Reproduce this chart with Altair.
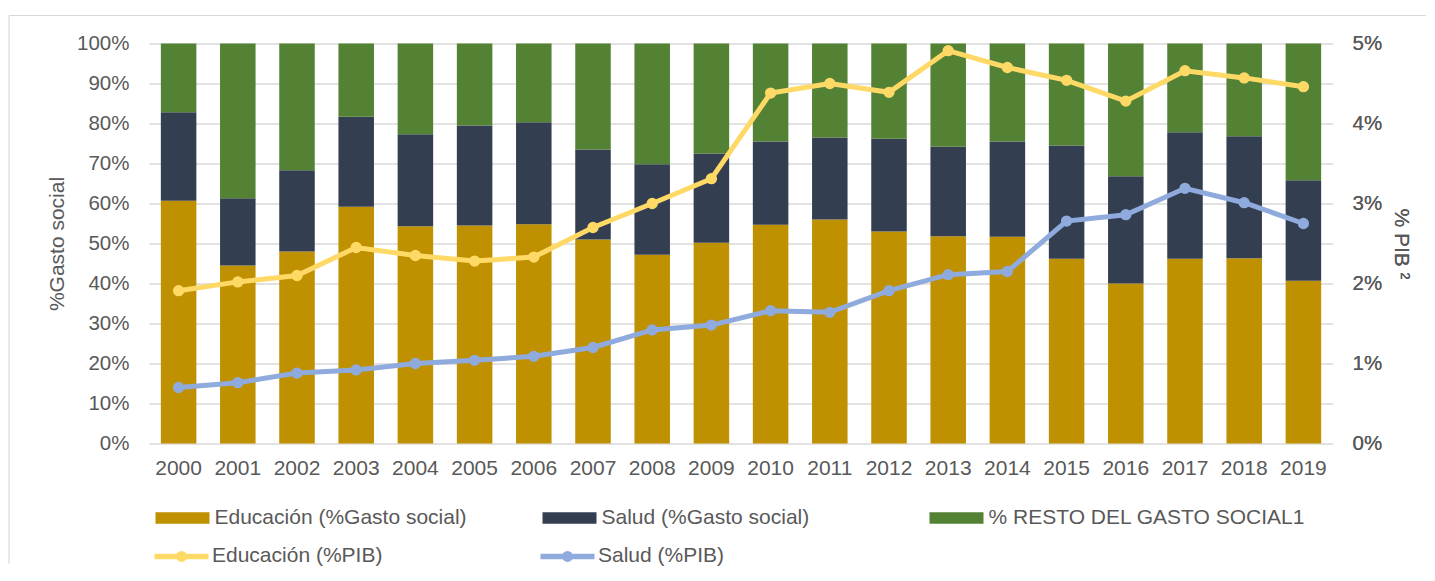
import altair as alt
import pandas as pd

years = ["2000", "2001", "2002", "2003", "2004", "2005", "2006", "2007", "2008", "2009",
         "2010", "2011", "2012", "2013", "2014", "2015", "2016", "2017", "2018", "2019"]

# % of social spending (stacked bars, left axis)
edu_gs = [60.7, 44.5, 48.0, 59.2, 54.3, 54.5, 54.8, 51.0, 47.2, 50.2,
          54.7, 56.0, 53.0, 51.8, 51.7, 46.2, 40.0, 46.2, 46.3, 40.7]
salud_gs = [22.1, 16.8, 20.3, 22.5, 23.0, 25.0, 25.5, 22.5, 22.6, 22.3,
            20.8, 20.5, 23.2, 22.4, 23.8, 28.3, 26.8, 31.6, 30.5, 25.1]
resto_gs = [17.2, 38.7, 31.7, 18.3, 22.7, 20.5, 19.7, 26.5, 30.2, 27.5,
            24.5, 23.5, 23.8, 25.8, 24.5, 25.5, 33.2, 22.2, 23.2, 34.2]

# % of GDP (lines, right axis)
edu_pib = [1.91, 2.02, 2.10, 2.45, 2.35, 2.28, 2.33, 2.70, 3.00, 3.31,
           4.38, 4.50, 4.39, 4.91, 4.70, 4.54, 4.28, 4.66, 4.57, 4.46]
salud_pib = [0.70, 0.76, 0.88, 0.92, 1.00, 1.04, 1.09, 1.20, 1.42, 1.48,
             1.66, 1.64, 1.91, 2.11, 2.15, 2.78, 2.86, 3.19, 3.01, 2.75]

bar_series = ["Educación (%Gasto social)", "Salud (%Gasto social)", "% RESTO DEL GASTO SOCIAL1"]
bar_colors = ["#BF9000", "#333F50", "#548235"]
line_series = ["Educación (%PIB)", "Salud (%PIB)"]
line_colors = ["#FFD966", "#8FAADC"]

bar_rows = []
line_rows = []
for i, y in enumerate(years):
    bar_rows.append({"anio": y, "serie": bar_series[0], "valor": edu_gs[i], "orden": 0})
    bar_rows.append({"anio": y, "serie": bar_series[1], "valor": salud_gs[i], "orden": 1})
    bar_rows.append({"anio": y, "serie": bar_series[2], "valor": resto_gs[i], "orden": 2})
    line_rows.append({"anio": y, "serie": line_series[0], "valor": edu_pib[i]})
    line_rows.append({"anio": y, "serie": line_series[1], "valor": salud_pib[i]})
df_bar = pd.DataFrame(bar_rows)
df_line = pd.DataFrame(line_rows)

FONT = "Liberation Sans"
GREY = "#595959"
FRAME = "#D9D9D9"

rect_path = "M-1,-0.217H1V0.217H-1Z"
line_path = "M-2.16,0H2.16M-0.22,0A0.22,0.22 0 1,1 0.22,0A0.22,0.22 0 1,1 -0.22,0"

x = alt.X(
    "anio:O",
    sort=years,
    scale=alt.Scale(paddingInner=0.4, paddingOuter=0.2),
    axis=alt.Axis(title=None, labelAngle=0, labelFontSize=21, labelColor=GREY,
                  labelFont=FONT, ticks=False, domain=False, labelPadding=14),
)

bars = alt.Chart(df_bar).mark_bar().encode(
    x=x,
    y=alt.Y(
        "valor:Q",
        stack="zero",
        scale=alt.Scale(domain=[0, 100], nice=False),
        axis=alt.Axis(
            title="%Gasto social",
            values=[0, 10, 20, 30, 40, 50, 60, 70, 80, 90, 100],
            labelExpr="datum.value + '%'",
            labelFontSize=20.5,
            labelColor=GREY,
            labelFont=FONT,
            titleFontSize=21,
            titleFontWeight="normal",
            titleColor=GREY,
            titleFont=FONT,
            titlePadding=9,
            labelPadding=20,
            ticks=False,
            domain=False,
            grid=True,
            gridColor=FRAME,
            gridWidth=1.6,
        ),
    ),
    fill=alt.Fill(
        "serie:N",
        scale=alt.Scale(domain=bar_series, range=bar_colors),
        sort=bar_series,
        legend=alt.Legend(
            title=None,
            orient="none",
            legendX=6.5,
            legendY=447.5,
            columns=3,
            gridAlign="all",
            columnPadding=11,
            labelFontSize=21,
            labelColor=GREY,
            labelFont=FONT,
            labelOffset=5,
            labelLimit=400,
            symbolType=rect_path,
            symbolSize=2916,
            symbolStrokeWidth=0,
            symbolOpacity=1,
        ),
    ),
    order=alt.Order("orden:Q", sort="ascending"),
)

y_line = alt.Y(
    "valor:Q",
    scale=alt.Scale(domain=[0, 5], nice=False),
    axis=alt.Axis(
        orient="right",
        title="% PIB ²",
        values=[0, 1, 2, 3, 4, 5],
        labelExpr="datum.value + '%'",
        labelFontSize=20.5,
        labelColor=GREY,
        labelFont=FONT,
        titleFontSize=21,
        titleFontWeight="normal",
        titleColor=GREY,
        titleFont=FONT,
        titlePadding=9,
        labelPadding=19,
        ticks=False,
        domain=False,
        grid=False,
    ),
)

stroke = alt.Stroke(
    "serie:N",
    scale=alt.Scale(domain=line_series, range=line_colors),
    sort=line_series,
    legend=alt.Legend(
        title=None,
        orient="none",
        legendX=17,
        legendY=497,
        columns=3,
        gridAlign="all",
        columnPadding=146,
        labelFontSize=21,
        labelColor=GREY,
        labelFont=FONT,
        labelOffset=15,
        labelLimit=400,
        symbolType=line_path,
        symbolSize=625,
        symbolStrokeWidth=5.5,
        symbolFillColor="transparent",
        symbolOpacity=1,
    ),
)

lines = alt.Chart(df_line).mark_line(strokeWidth=5).encode(
    x=x, y=y_line, stroke=stroke
)
points = alt.Chart(df_line).mark_point(shape="circle", size=34, strokeWidth=5.5, filled=False, opacity=1).encode(
    x=x, y=y_line, stroke=stroke
)

# light grey chart-area frame (top and left edges, as in the original)
frame_df = pd.DataFrame({"k": [0]})
frame_top = alt.Chart(frame_df).mark_rule(color=FRAME, strokeWidth=1.2, strokeCap="butt").encode(
    x=alt.value(-140), x2=alt.value(1277), y=alt.value(-28)
)
frame_left = alt.Chart(frame_df).mark_rule(color=FRAME, strokeWidth=1.2, strokeCap="butt").encode(
    x=alt.value(-140), y=alt.value(-28), y2=alt.value(520)
)

chart = (
    alt.layer(frame_top, frame_left, bars, lines, points)
    .resolve_scale(y="independent")
    .properties(width=1184, height=400, padding={"left": 0, "top": 6.5, "right": 0, "bottom": 0})
    .configure_view(stroke=None)
)

chart.save("out.html", embed_options={"renderer": "svg", "actions": False})
